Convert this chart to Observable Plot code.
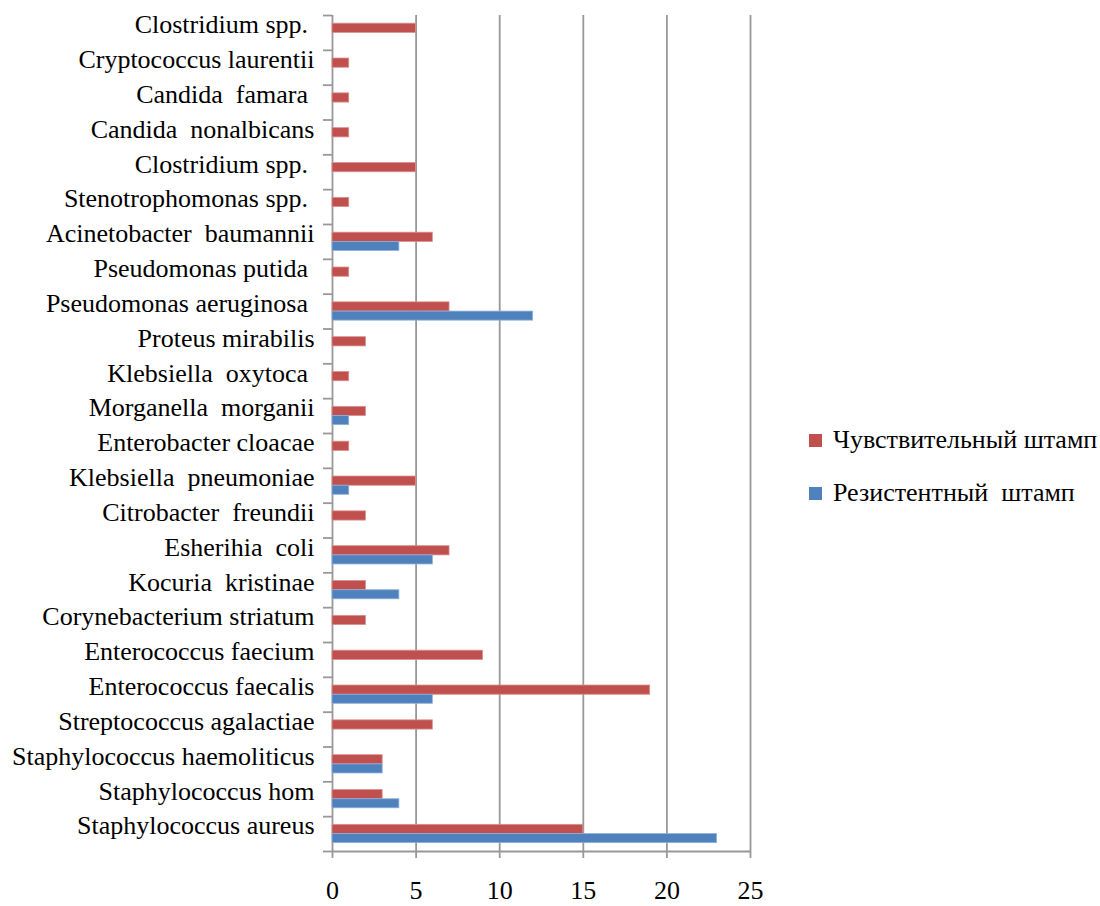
<!DOCTYPE html>
<html>
<head>
<meta charset="utf-8">
<script src="https://cdn.jsdelivr.net/npm/d3@7"></script>
<script src="https://cdn.jsdelivr.net/npm/@observablehq/plot@0.6"></script>
<style>
  html, body { margin: 0; padding: 0; background: #fff; }
  #wrap { position: relative; width: 1100px; height: 906px; }
  #legend { position: absolute; left: 809px; top: 426px; font-size: 26px; color: #000; font-family: "Liberation Serif", "Times New Roman", serif; }
  .row { display: flex; align-items: center; height: 28px; margin-bottom: 25px; white-space: pre; }
  .sw { width: 13px; height: 13px; margin-right: 11px; }
</style>
</head>
<body>
<div id="wrap"></div>
<script>
// Categories from bottom to top (as drawn)
const categories = [
  "Staphylococcus aureus",
  "Staphylococcus hom",
  "Staphylococcus haemoliticus",
  "Streptococcus agalactiae",
  "Enterococcus faecalis",
  "Enterococcus faecium",
  "Corynebacterium striatum",
  "Kocuria  kristinae",
  "Esherihia  coli",
  "Citrobacter  freundii",
  "Klebsiella  pneumoniae",
  "Enterobacter cloacae",
  "Morganella  morganii",
  "Klebsiella  oxytoca ",
  "Proteus mirabilis",
  "Pseudomonas aeruginosa ",
  "Pseudomonas putida ",
  "Acinetobacter  baumannii",
  "Stenotrophomonas spp. ",
  "Clostridium spp. ",
  "Candida  nonalbicans",
  "Candida  famara ",
  "Cryptococcus laurentii",
  "Clostridium spp. "
];
const sensitive = [15, 3, 3, 6, 19, 9, 2, 2, 7, 2, 5, 1, 2, 1, 2, 7, 1, 6, 1, 5, 1, 1, 1, 5];
const resistant = [23, 4, 3, 0, 6, 0, 0, 4, 6, 0, 1, 0, 1, 0, 0, 12, 0, 4, 0, 0, 0, 0, 0, 0];
const seriesNames = ["Чувствительный штамп", "Резистентный  штамп"];
const seriesColors = ["#C0504D", "#4F81BD"];
const xTicks = [0, 5, 10, 15, 20, 25];

const fmtName = s => s.replace(/  /g, " \u00a0").replace(/ $/, "\u00a0");

const rows = categories.map((c, i) => ({i, name: c, sensitive: sensitive[i], resistant: resistant[i]}));
const redBars = rows.map(d => ({x: d.sensitive, y1: d.i + 0.5, y2: d.i + 0.765}));
const blueBars = rows.filter(d => d.resistant > 0).map(d => ({x: d.resistant, y1: d.i + 0.24, y2: d.i + 0.5}));

const grid = "#989898";
const serif = "Liberation Serif";

const chart = Plot.plot({
  width: 800,
  height: 906,
  marginTop: 15,
  marginBottom: 55,
  marginLeft: 332,
  marginRight: 50,
  style: {fontSize: "26px", color: "#000", background: "transparent"},
  x: {domain: [0, 25], label: null},
  y: {domain: [0, categories.length], label: null},
  marks: [
    Plot.ruleX(xTicks, {stroke: grid, strokeWidth: 1.8}),
    Plot.ruleY([0], {stroke: grid, strokeWidth: 1.8}),
    Plot.axisX({ticks: xTicks, tickSize: 7, tickPadding: 22, stroke: grid, strokeWidth: 1.8, fill: "#000", fontSize: 26, fontFamily: serif, label: null}),
    Plot.axisY({ticks: d3.range(categories.length + 1), tickSize: 9, tickFormat: () => "", stroke: grid, strokeWidth: 1.8, label: null}),
    Plot.axisY({ticks: categories.map((c, i) => i + 0.5), tickSize: 0, tickPadding: 18, dy: -8,
      tickFormat: v => fmtName(categories[Math.round(v - 0.5)]), fill: "#000", fontSize: 26, fontFamily: serif, label: null}),
    Plot.rectX(redBars, {x1: 0, x2: "x", y1: "y1", y2: "y2", fill: seriesColors[0], stroke: "#d9908e", strokeWidth: 0.8}),
    Plot.rectX(blueBars, {x1: 0, x2: "x", y1: "y1", y2: "y2", fill: seriesColors[1], stroke: "#8fb0d9", strokeWidth: 0.8})
  ]
});

const wrap = document.getElementById("wrap");
wrap.appendChild(chart);
const legend = document.createElement("div");
legend.id = "legend";
seriesNames.forEach((n, k) => {
  const r = document.createElement("div");
  r.className = "row";
  const sw = document.createElement("span");
  sw.className = "sw";
  sw.style.background = seriesColors[k];
  const t = document.createElement("span");
  t.textContent = n;
  r.appendChild(sw); r.appendChild(t);
  legend.appendChild(r);
});
wrap.appendChild(legend);
</script>
</body>
</html>
